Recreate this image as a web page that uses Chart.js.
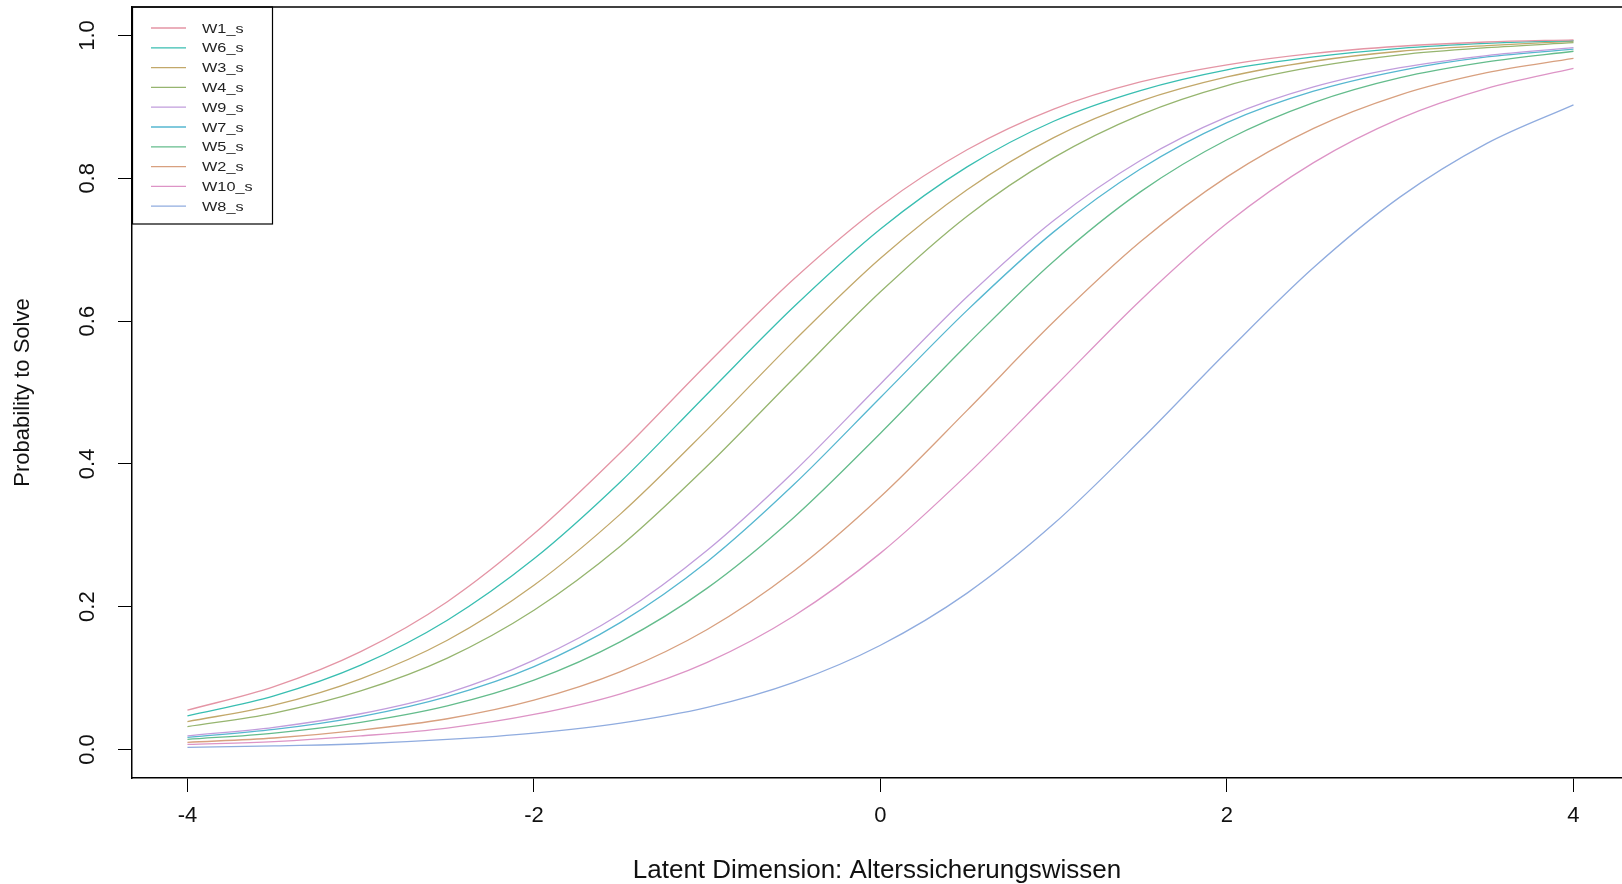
<!DOCTYPE html>
<html>
<head>
<meta charset="utf-8">
<title>Item characteristic curves</title>
<script src="https://cdn.jsdelivr.net/npm/chart.js@4"></script>
<style>
  html, body { margin: 0; padding: 0; background: #fff; overflow: hidden; }
  #wrap { width: 1622px; height: 884px; }
</style>
</head>
<body>
<div id="wrap"><canvas id="myChart" width="1622" height="884"></canvas></div>
<script>
// latent ability values (x) the curves were read at
let theta = [-4, -3.5, -3, -2.5, -2, -1.5, -1, -0.5, 0, 0.5, 1, 1.5, 2, 2.5, 3, 3.5, 4];

// probability to solve, one array per item
let w1 = [0.055, 0.088, 0.137, 0.207, 0.302, 0.416, 0.540, 0.659, 0.761, 0.840, 0.897, 0.935, 0.959, 0.975, 0.985, 0.991, 0.994];
let w6 = [0.047, 0.075, 0.118, 0.181, 0.267, 0.375, 0.498, 0.620, 0.729, 0.816, 0.880, 0.923, 0.952, 0.970, 0.982, 0.989, 0.993];
let w3 = [0.039, 0.062, 0.099, 0.153, 0.230, 0.330, 0.448, 0.572, 0.688, 0.784, 0.857, 0.908, 0.942, 0.964, 0.978, 0.986, 0.992];
let w4 = [0.032, 0.051, 0.082, 0.128, 0.195, 0.285, 0.397, 0.520, 0.641, 0.747, 0.829, 0.889, 0.930, 0.956, 0.973, 0.983, 0.990];
let w9 = [0.019, 0.031, 0.050, 0.079, 0.125, 0.190, 0.279, 0.389, 0.512, 0.634, 0.741, 0.825, 0.886, 0.928, 0.955, 0.972, 0.983];
let w7 = [0.017, 0.028, 0.046, 0.074, 0.116, 0.178, 0.263, 0.371, 0.493, 0.615, 0.725, 0.813, 0.878, 0.922, 0.951, 0.970, 0.981];
let w5 = [0.014, 0.023, 0.038, 0.061, 0.097, 0.151, 0.226, 0.325, 0.443, 0.567, 0.684, 0.781, 0.854, 0.906, 0.941, 0.963, 0.978];
let w2 = [0.010, 0.016, 0.027, 0.043, 0.069, 0.109, 0.168, 0.250, 0.354, 0.475, 0.599, 0.711, 0.802, 0.870, 0.917, 0.948, 0.968];
let w10 = [0.007, 0.011, 0.019, 0.030, 0.049, 0.078, 0.122, 0.187, 0.275, 0.385, 0.507, 0.629, 0.737, 0.822, 0.884, 0.926, 0.954];
let w8 = [0.003, 0.005, 0.008, 0.014, 0.023, 0.037, 0.059, 0.094, 0.146, 0.219, 0.316, 0.433, 0.557, 0.675, 0.774, 0.849, 0.903];

let itemNames = ['W1_s', 'W6_s', 'W3_s', 'W4_s', 'W9_s', 'W7_s', 'W5_s', 'W2_s', 'W10_s', 'W8_s'];
let itemValues = [w1, w6, w3, w4, w9, w7, w5, w2, w10, w8];

let xTicks = [-4, -2, 0, 2, 4];
let yTicks = [0, 0.2, 0.4, 0.6, 0.8, 1.0];

// hcl rainbow, same order as the items above
let itemColors = ['#E495A5', '#39BEB1', '#C2A86A', '#96B56F', '#C19DDC',
  '#56B7D0', '#64BC8C', '#D8A07F', '#DD94C6', '#90ACDF'];

let datasets = [];
for (let i = 0; i < itemNames.length; i++) {
  datasets.push({
    label: itemNames[i],
    data: theta.map((t, j) => ({ x: t, y: itemValues[i][j] })),
    borderColor: itemColors[i],
    backgroundColor: itemColors[i],
    borderWidth: 1.3,
    pointRadius: 0,
    cubicInterpolationMode: 'monotone',
    fill: false
  });
}

// R style box legend in the top left corner
let boxLegend = {
  id: 'boxLegend',
  afterDatasetsDraw(chart) {
    let ctx = chart.ctx;
    let left = chart.chartArea.left;
    let top = chart.chartArea.top;
    ctx.save();
    ctx.fillStyle = '#fff';
    ctx.fillRect(left, top, 140, 217);
    ctx.strokeStyle = '#000';
    ctx.lineWidth = 1.2;
    ctx.strokeRect(left + 0.5, top, 140, 217);
    chart.data.datasets.forEach((ds, i) => {
      let y = top + 21 + i * 19.8;
      ctx.strokeStyle = ds.borderColor;
      ctx.lineWidth = 1.3;
      ctx.beginPath();
      ctx.moveTo(left + 19, y);
      ctx.lineTo(left + 54, y);
      ctx.stroke();
      ctx.save();
      ctx.translate(left + 70, y);
      ctx.scale(1.25, 1);
      ctx.fillStyle = '#222';
      ctx.font = '13px "Liberation Sans", Arial, sans-serif';
      ctx.textBaseline = 'middle';
      ctx.fillText(ds.label, 0, 1);
      ctx.restore();
    });
    ctx.restore();
  }
};

// top edge of the plot box
let plotBox = {
  id: 'plotBox',
  afterDraw(chart) {
    let ctx = chart.ctx;
    let a = chart.chartArea;
    ctx.save();
    ctx.strokeStyle = '#000';
    ctx.lineWidth = 1.5;
    ctx.beginPath();
    ctx.moveTo(a.left, a.top);
    ctx.lineTo(a.right, a.top);
    ctx.stroke();
    ctx.restore();
  }
};

let ctx = document.getElementById('myChart').getContext('2d');
let myChart = new Chart(ctx, {
  type: 'line',
  data: { datasets: datasets },
  plugins: [boxLegend, plotBox],
  options: {
    responsive: false,
    devicePixelRatio: 1,
    animation: false,
    layout: { padding: { top: 7, left: 0, right: 0, bottom: 0 } },
    plugins: {
      legend: { display: false },
      tooltip: { enabled: false }
    },
    scales: {
      x: {
        type: 'linear',
        min: -4.32,
        max: 4.28,
        afterBuildTicks: (scale) => { scale.ticks = xTicks.map(v => ({ value: v })); },
        afterFit: (scale) => {
          scale.height = 106;
          scale.paddingLeft = 0;
          scale.paddingRight = 0;
        },
        grid: { drawOnChartArea: false, drawTicks: true, tickLength: 14, tickColor: '#000', tickWidth: 1 },
        border: { display: true, color: '#000', width: 1.5 },
        ticks: {
          color: '#111',
          padding: 11,
          maxRotation: 0,
          font: { family: '"Liberation Sans", Arial, sans-serif', size: 22 },
          callback: (v) => String(v).replace('\u2212', '-')
        },
        title: {
          display: true,
          text: 'Latent Dimension: Alterssicherungswissen',
          color: '#111',
          font: { family: '"Liberation Sans", Arial, sans-serif', size: 26, lineHeight: 1 },
          padding: { top: 0, bottom: 0 }
        }
      },
      y: {
        type: 'linear',
        min: -0.04,
        max: 1.04,
        afterBuildTicks: (scale) => { scale.ticks = yTicks.map(v => ({ value: v })); },
        afterFit: (scale) => {
          scale.width = 132;
          scale.paddingTop = 0;
          scale.paddingBottom = 0;
        },
        grid: { drawOnChartArea: false, drawTicks: true, tickLength: 14, tickColor: '#000', tickWidth: 1 },
        border: { display: true, color: '#000', width: 1.5 },
        ticks: {
          color: '#111',
          padding: 15,
          minRotation: 90,
          maxRotation: 90,
          crossAlign: 'center',
          font: { family: '"Liberation Sans", Arial, sans-serif', size: 22 },
          callback: (v) => v.toFixed(1)
        },
        title: {
          display: true,
          text: 'Probability to Solve',
          color: '#111',
          font: { family: '"Liberation Sans", Arial, sans-serif', size: 22, lineHeight: 1.2 },
          padding: { top: 10, bottom: 0 }
        }
      }
    }
  }
});
</script>
</body>
</html>
